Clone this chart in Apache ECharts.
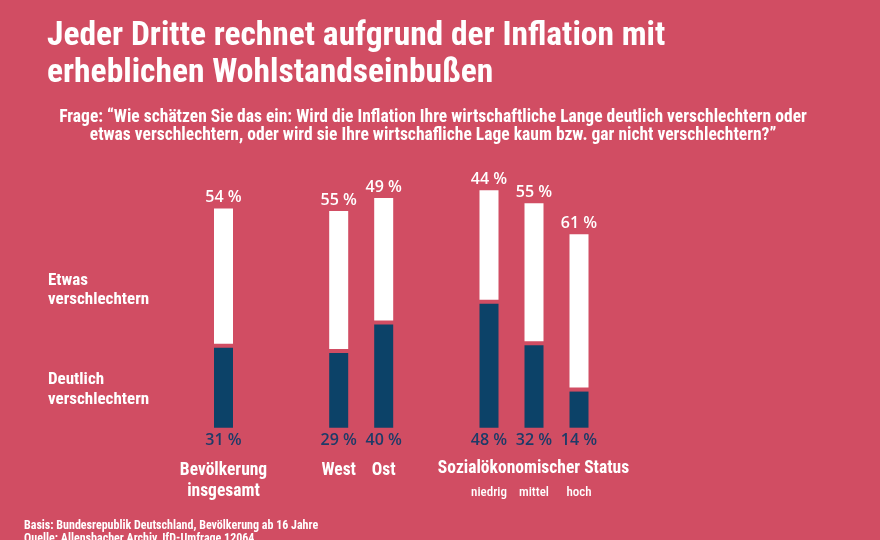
<!DOCTYPE html>
<html><head><meta charset="utf-8">
<script src="https://cdn.jsdelivr.net/npm/echarts@6/dist/echarts.min.js"></script>
<style>html,body{margin:0;padding:0;background:#D14D63;}#c{width:880px;height:540px;}</style>
</head><body><div id="c"></div>
<script>
// ---- data ----
const titleText = 'Jeder Dritte rechnet aufgrund der Inflation mit\nerheblichen Wohlstandseinbußen';
const questionText = 'Frage: \u201cWie schätzen Sie das ein: Wird die Inflation Ihre wirtschaftliche Lange deutlich verschlechtern oder\netwas verschlechtern, oder wird sie Ihre wirtschafliche Lage kaum bzw. gar nicht verschlechtern?\u201d';
const seriesNames = ['Etwas\nverschlechtern', 'Deutlich\nverschlechtern'];
const groupStatusTitle = 'Sozialökonomischer Status';
const footnote = 'Basis: Bundesrepublik Deutschland, Bevölkerung ab 16 Jahre\nQuelle: Allensbacher Archiv, IfD-Umfrage 12064';

const catsBev = ['Bevölkerung\ninsgesamt'];
const deutlichBev = [31];
const etwasBev = [54];

const catsRegion = ['West', 'Ost'];
const deutlichRegion = [29, 40];
const etwasRegion = [55, 49];

const catsStatus = ['niedrig', 'mittel', 'hoch'];
const deutlichStatus = [48, 32, 14];
const etwasStatus = [44, 55, 61];

// ---- styling ----
const BG = '#D14D63';
const NAVY = '#0C4268';
const NAVY_TEXT = '#1D3B68';
const COND = '"Roboto Condensed","Liberation Sans Narrow",sans-serif';
const VALF = '"Open Sans","Noto Sans",sans-serif';
const GAP = 4;
const BARW = 19;

const chart = echarts.init(document.getElementById('c'));

function renderBar(params, api) {
  const i = api.value(0), d = api.value(1), e = api.value(2);
  const base = api.coord([i, 0]);
  const mid = api.coord([i, d]);
  const top = api.coord([i, d + e]);
  const x = base[0] - BARW / 2;
  return {
    type: 'group',
    children: [
      { type: 'rect', shape: { x: x, y: mid[1], width: BARW, height: base[1] - mid[1] }, style: { fill: NAVY } },
      { type: 'rect', shape: { x: x, y: top[1], width: BARW, height: mid[1] - GAP - top[1] }, style: { fill: '#ffffff' } },
      { type: 'text', x: base[0], y: top[1] - 3,
        style: { text: e + ' %', fill: '#ffffff', font: '600 16px ' + VALF, textAlign: 'center', textVerticalAlign: 'bottom', align: 'center', verticalAlign: 'bottom' } },
      { type: 'text', x: base[0], y: base[1] + 5,
        style: { text: d + ' %', fill: NAVY_TEXT, font: '600 16px ' + VALF, textAlign: 'center', textVerticalAlign: 'top', align: 'center', verticalAlign: 'top' } }
    ]
  };
}

function toData(deut, etw) { return deut.map((v, i) => [i, v, etw[i]]); }

const GTOP = 169.7, GH = 258;
const grids = [
  { left: 201, width: 45, top: GTOP, height: GH },
  { left: 316.2, width: 90, top: GTOP, height: GH },
  { left: 466.5, width: 135, top: GTOP, height: GH }
];
const catLists = [catsBev, catsRegion, catsStatus];

const xAxes = catLists.map((cats, k) => ({
  type: 'category', gridIndex: k, data: cats,
  axisLine: { show: false }, axisTick: { show: false },
  axisLabel: k === 2
    ? { color: '#fff', fontSize: 13, fontWeight: 500, fontFamily: COND, margin: 58, lineHeight: 14, interval: 0 }
    : { color: '#fff', fontSize: 17.5, fontWeight: 'bold', fontFamily: COND, margin: 32, lineHeight: 21, interval: 0 }
}));
const yAxes = catLists.map((c, k) => ({ type: 'value', gridIndex: k, min: 0, max: 100, show: false }));

const series = [
  [deutlichBev, etwasBev], [deutlichRegion, etwasRegion], [deutlichStatus, etwasStatus]
].map((p, k) => ({
  type: 'custom', xAxisIndex: k, yAxisIndex: k, renderItem: renderBar,
  data: toData(p[0], p[1]), encode: { x: 0, y: [1, 2] }, silent: true
}));

chart.setOption({
  backgroundColor: BG,
  animation: false,
  grid: grids,
  xAxis: xAxes,
  yAxis: yAxes,
  series: series,
  graphic: [
    { type: 'text', left: 47, top: 18, style: { text: titleText, fill: '#fff', font: 'bold 33.5px ' + COND, lineHeight: 37 } },
    { type: 'text', x: 433, y: 109, style: { text: questionText, fill: '#fff', font: 'bold 17.5px ' + COND, lineHeight: 17.5, textAlign: 'center', align: 'center' } },
    { type: 'text', left: 48, top: 271, style: { text: seriesNames[0], fill: '#fff', font: 'bold 17px ' + COND, lineHeight: 19 } },
    { type: 'text', left: 48, top: 370, style: { text: seriesNames[1], fill: '#fff', font: 'bold 17px ' + COND, lineHeight: 19.5 } },
    { type: 'text', x: 533.5, y: 460, style: { text: groupStatusTitle, fill: '#fff', font: 'bold 17.5px ' + COND, textAlign: 'center', align: 'center' } },
    { type: 'text', left: 24, top: 519, style: { text: footnote, fill: '#fff', font: 'bold 12px ' + COND, lineHeight: 13 } }
  ]
});
</script></body></html>
